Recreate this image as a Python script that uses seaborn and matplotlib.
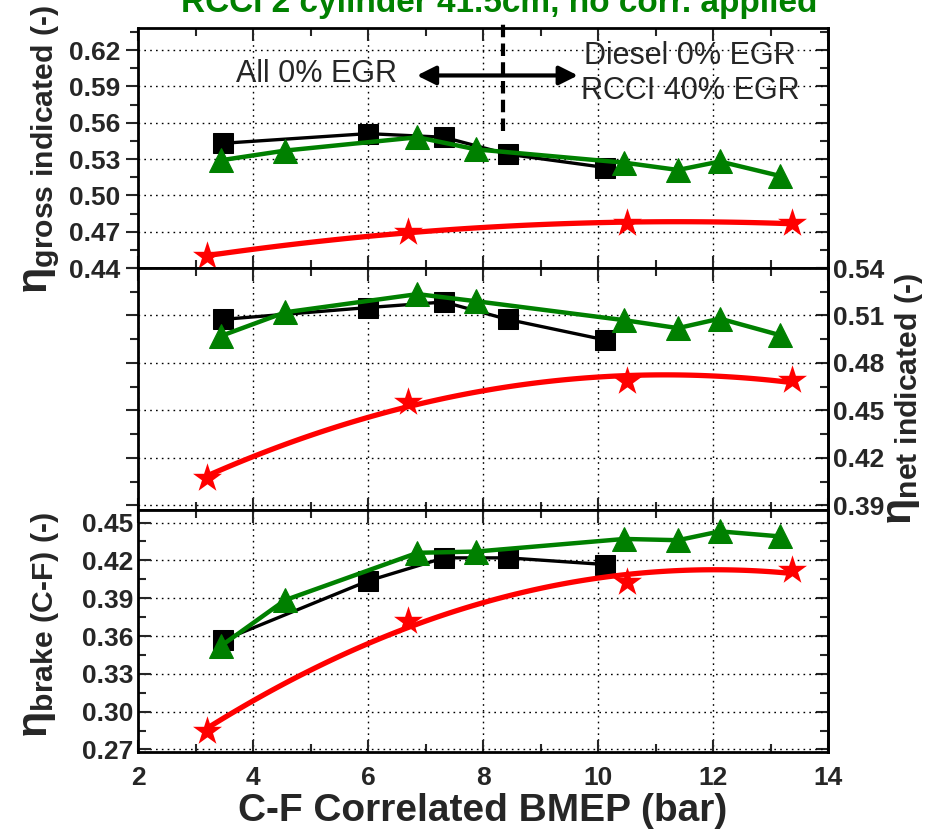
import numpy as np
import pandas as pd
import matplotlib
matplotlib.use("Agg")
import matplotlib.pyplot as plt
import seaborn as sns
from matplotlib.ticker import MultipleLocator, FixedLocator, FormatStrFormatter

# --- data ---
bmep_diesel = [3.47, 6.0, 7.32, 8.43, 10.13]
bmep_rcci = [3.44, 4.56, 6.86, 7.88, 10.46, 11.39, 12.12, 13.17]
bmep_gas = [3.2, 6.7, 10.5, 13.37]

gross_diesel = [0.543, 0.551, 0.548, 0.534, 0.523]
gross_rcci = [0.529, 0.537, 0.548, 0.538, 0.527, 0.521, 0.528, 0.516]
gross_gas = [0.450, 0.470, 0.477, 0.477]

net_diesel = [0.5075, 0.515, 0.5185, 0.5075, 0.4945]
net_rcci = [0.497, 0.512, 0.5235, 0.519, 0.507, 0.502, 0.508, 0.4975]
net_gas = [0.4075, 0.4555, 0.4685, 0.469]

brake_diesel = [0.3565, 0.4037, 0.422, 0.422, 0.4167]
brake_rcci = [0.352, 0.3885, 0.426, 0.427, 0.437, 0.436, 0.443, 0.439]
brake_gas = [0.285, 0.372, 0.403, 0.412]

gross_ticks = [0.44, 0.47, 0.50, 0.53, 0.56, 0.59, 0.62]
net_ticks = [0.39, 0.42, 0.45, 0.48, 0.51, 0.54]
brake_ticks = [0.27, 0.30, 0.33, 0.36, 0.39, 0.42, 0.45]

title = "RCCI 2 cylinder 41.5cm, no corr. applied"
xlabel = "C-F Correlated BMEP (bar)"
ylabels = [r"$\eta_{gross\ indicated\ (\text{-})}$",
           r"$\eta_{net\ indicated\ (\text{-})}$",
           r"$\eta_{brake\ (C\text{-}F)\ (\text{-})}$"]

sns.set_style("white")
plt.rcParams["font.family"] = ["Liberation Sans", "DejaVu Sans"]
plt.rcParams["font.weight"] = "bold"
plt.rcParams["mathtext.fontset"] = "custom"
plt.rcParams["mathtext.rm"] = "Liberation Sans:bold"
plt.rcParams["mathtext.it"] = "Liberation Sans:bold"
plt.rcParams["mathtext.bf"] = "Liberation Sans:bold"
plt.rcParams["mathtext.default"] = "rm"

fig = plt.figure(figsize=(9.42, 8.30), dpi=100)
L, W = 0.1465, 0.7325
ax1 = fig.add_axes([L, 0.677, W, 0.289])
ax2 = fig.add_axes([L, 0.3855, W, 0.2916], sharex=ax1)
ax3 = fig.add_axes([L, 0.094, W, 0.2916], sharex=ax1)

panels = [
    (ax1, gross_diesel, gross_rcci, gross_gas, gross_ticks, (0.44, 0.638)),
    (ax2, net_diesel, net_rcci, net_gas, net_ticks, (0.387, 0.54)),
    (ax3, brake_diesel, brake_rcci, brake_gas, brake_ticks, (0.268, 0.46)),
]

for i, (ax, yd, yr, yg, ticks, ylim) in enumerate(panels):
    sns.lineplot(x=bmep_diesel, y=yd, ax=ax, color="black", lw=2.4,
                 marker="s", markersize=15, markeredgecolor="black", zorder=3)
    sns.lineplot(x=bmep_rcci, y=yr, ax=ax, color="#008000", lw=3.2,
                 marker="^", markersize=17, markeredgecolor="#008000", zorder=4)
    # smooth trend through the red points, as in the source figure
    sns.regplot(x=bmep_gas, y=yg, ax=ax, order=2, ci=None, truncate=True,
                color="#ff0000", marker="*",
                scatter_kws=dict(s=480, zorder=6, linewidths=0, alpha=1),
                line_kws=dict(lw=3.8, zorder=5))
    ax.set_xlim(2, 14)
    ax.set_ylim(*ylim)
    minor = [t + 0.015 for t in ticks] + [ticks[0] - 0.015]
    ax.xaxis.set_major_locator(MultipleLocator(2))
    ax.xaxis.set_minor_locator(MultipleLocator(1))
    ax.yaxis.set_major_locator(FixedLocator(ticks))
    ax.yaxis.set_minor_locator(FixedLocator(minor))
    ax.yaxis.set_major_formatter(FormatStrFormatter("%.2f"))
    ax.grid(True, which="major", ls=(0, (1.2, 3)), lw=1, color="black")
    for s in ax.spines.values():
        s.set_linewidth(2)
        s.set_color("black")
    ax.tick_params(axis="x", which="both", direction="in", top=True, bottom=True,
                   labelbottom=(i == 2), labelsize=19, width=1.5, pad=10)
    ax.tick_params(axis="x", which="major", length=9)
    ax.tick_params(axis="x", which="minor", length=6)
    ax.tick_params(axis="y", which="both", direction=("in" if i == 2 else "out"),
                   left=True, right=False, labelleft=(i != 1), labelsize=19, width=1.5)
    ax.tick_params(axis="y", which="major", length=9)
    ax.tick_params(axis="y", which="minor", length=6)
    ax.set_xlabel("")
    ax.set_ylabel("")
    sec = ax.secondary_yaxis("right")
    sec.yaxis.set_major_locator(FixedLocator(ticks))
    sec.yaxis.set_minor_locator(FixedLocator(minor))
    sec.yaxis.set_major_formatter(FormatStrFormatter("%.2f"))
    sec.spines["right"].set_linewidth(2)
    sec.tick_params(axis="y", which="both", direction="in", labelright=(i == 1),
                    labelsize=19, width=1.5)
    sec.tick_params(axis="y", which="major", length=9)
    sec.tick_params(axis="y", which="minor", length=6)
    for t in ax.get_xticklabels() + ax.get_yticklabels() + sec.get_yticklabels():
        t.set_fontweight("bold")

ax3.set_xlabel(xlabel, fontsize=28, fontweight="bold", labelpad=2)

fig.text(0.045, 0.82, ylabels[0], rotation=90, fontsize=31, ha="center", va="center")
fig.text(0.962, 0.52, ylabels[1], rotation=90, fontsize=31, ha="center", va="center")
fig.text(0.045, 0.247, ylabels[2], rotation=90, fontsize=31, ha="center", va="center")

fig.text(0.53, 0.9855, title, color="#008000", fontsize=24, fontweight="bold",
         ha="center", va="baseline")

# annotations in the top panel
div_x = 8.35
ax1.plot([div_x, div_x], [0.553, 0.645], color="black", lw=3, ls=(0, (3, 1.5)),
         clip_on=False, zorder=7)
ax1.annotate("", xy=(6.85, 0.599), xytext=(9.65, 0.599),
             arrowprops=dict(arrowstyle="<|-|>", lw=3, color="black",
                             mutation_scale=28, shrinkA=0, shrinkB=0))
ax1.text(5.1, 0.600, "All 0% EGR", fontsize=22, fontweight="normal",
         ha="center", va="center")
ax1.text(11.6, 0.615, "Diesel 0% EGR", fontsize=22, fontweight="normal",
         ha="center", va="center")
ax1.text(11.6, 0.586, "RCCI 40% EGR", fontsize=22, fontweight="normal",
         ha="center", va="center")

fig.savefig("out.png", dpi=100)
